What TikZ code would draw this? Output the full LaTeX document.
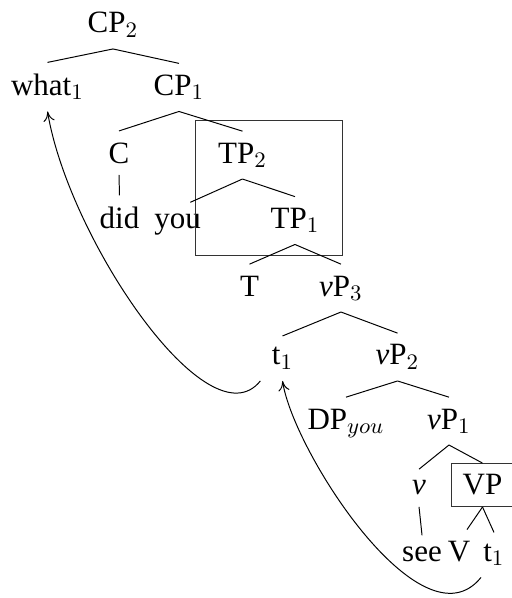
\documentclass[tikz,border=0pt]{standalone}
\usepackage{fontspec}
\setmainfont{Liberation Serif}
\usepackage{tikz}
\usetikzlibrary{arrows.meta, fit}

\begin{document}
\begin{tikzpicture}[
    % Styles
    cat/.style={
        anchor=base, inner sep=4.5pt,
        font=\fontsize{12.6pt}{15pt}\selectfont
    },
    boxed/.style={draw=black!80},
    branch/.style={line width=0.4pt},
    movement/.style={-{To[length=1.4mm, width=1.6mm]}, line width=0.4pt}
]
\useasboundingbox (0, 0) rectangle (7.314, -8.543);

% === TOP (CP layer) ===
\node (cp2) [cat] at (1.614, -0.471) {CP$_2$};
\node (what) [cat] at (0.679, -1.364) {what$_1$};
\node (cp1) [cat] at (2.557, -1.364) {CP$_1$};
\node (c) [cat] at (1.700, -2.329) {C};
\node (tp2) [cat] at (3.464, -2.329) {TP$_2$};
\node (did) [cat] at (1.707, -3.264) {did};
\node (you) [cat] at (2.536, -3.264) {you};
\node (tp1) [cat] at (4.214, -3.264) {TP$_1$};

% === MIDDLE (vP layer) ===
\node (t) [cat] at (3.564, -4.229) {T};
\node (vp3) [cat] at (4.871, -4.229) {\textit{v}P$_3$};
\node (trace1) [cat] at (4.036, -5.214) {t$_1$};
\node (vp2) [cat] at (5.679, -5.214) {\textit{v}P$_2$};
\node (dp) [cat] at (4.943, -6.129) {DP$_{you}$};
\node (vp1) [cat] at (6.414, -6.129) {\textit{v}P$_1$};

% === BOTTOM (VP layer) ===
\node (v) [cat] at (5.986, -7.071) {\textit{v}};
\node (vp) [cat, boxed] at (6.893, -7.071) {VP};
\node (see) [cat] at (6.029, -8.021) {see};
\node (verb) [cat] at (6.557, -8.021) {V};
\node (trace2) [cat] at (7.057, -8.021) {t$_1$};

% Box round the TP layer
\node (tpbox) [boxed, fit=(tp2)(tp1), inner sep=4.5pt] {};

% === BRANCHES ===
\draw [branch] (cp2.south) -- (what.north);
\draw [branch] (cp2.south) -- (cp1.north);
\draw [branch] (cp1.south) -- (c.north);
\draw [branch] (cp1.south) -- (tp2.north);
\draw [branch] (c.south) -- (did.north);
\draw [branch] (tp2.south) -- (you.60);
\draw [branch] (tp2.south) -- (tp1.north);
\draw [branch] (tp1.south) -- (t.north);
\draw [branch] (tp1.south) -- (vp3.north);
\draw [branch] (vp3.south) -- (trace1.north);
\draw [branch] (vp3.south) -- (vp2.north);
\draw [branch] (vp2.south) -- (dp.north);
\draw [branch] (vp2.south) -- (vp1.north);
\draw [branch] (vp1.south) -- (v.north);
\draw [branch] (vp1.south) -- (vp.north);
\draw [branch] (v.south) -- (see.north);
\draw [branch] (vp.south) -- (verb.70);
\draw [branch] (vp.south) -- (trace2.north);

% === MOVEMENT ===
\draw [movement] (trace1.south west) .. controls +(-0.743, -0.920) and +(0.300, -1.814) .. (what.south);
\draw [movement] (trace2.240) .. controls +(-0.843, -1.043) and +(0.157, -1.014) .. (trace1.south);

\end{tikzpicture}
\end{document}
